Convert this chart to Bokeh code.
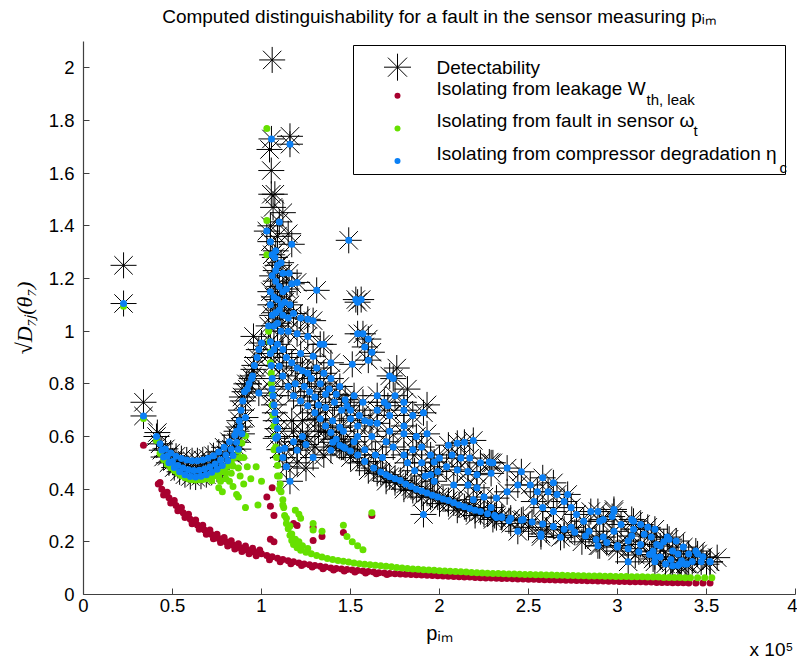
import math
from bokeh.plotting import figure
from bokeh.models import Label, BoxAnnotation, FixedTicker, CustomJSTickFormatter, LinearAxis, Title
from bokeh.embed import file_html
from bokeh.resources import INLINE

# ---------------- axis ticks ----------------
x_ticks = [0, 0.5, 1, 1.5, 2, 2.5, 3, 3.5, 4]
x_tick_labels = ["0", "0.5", "1", "1.5", "2", "2.5", "3", "3.5", "4"]
y_ticks = [0, 0.2, 0.4, 0.6, 0.8, 1, 1.2, 1.4, 1.6, 1.8, 2]
y_tick_labels = ["0", "0.2", "0.4", "0.6", "0.8", "1", "1.2", "1.4", "1.6", "1.8", "2"]

# ---------------- data (x in units of 1e5, as on the axis) ----------------
# Isolating from leakage W_th,leak (red)
red_band = [(0.42,0.420),(0.44,0.400),(0.46,0.383),(0.48,0.367),(0.50,0.352),(0.52,0.338),(0.54,0.324),
            (0.56,0.310),(0.58,0.298),(0.60,0.286),(0.62,0.275),(0.64,0.264),(0.66,0.254),(0.68,0.245),
            (0.70,0.236),(0.72,0.228),(0.74,0.220),(0.76,0.213),(0.78,0.206),(0.80,0.200),(0.82,0.194),
            (0.84,0.188),(0.86,0.183),(0.88,0.178),(0.90,0.173),(0.92,0.169),(0.94,0.165),(0.96,0.161),
            (0.98,0.158),(1.00,0.155),
            (0.43,0.425),(0.47,0.388),(0.51,0.357),(0.55,0.330),(0.59,0.305),(0.63,0.283),(0.67,0.263),
            (0.71,0.245),(0.75,0.229),(0.79,0.216),(0.83,0.204),(0.87,0.193),(0.91,0.184),(0.95,0.176),(0.99,0.169),
            (0.45,0.378),(0.49,0.347),(0.53,0.318),(0.57,0.292),(0.61,0.269),(0.65,0.248),(0.69,0.229),
            (0.73,0.212),(0.77,0.197),(0.81,0.184),(0.85,0.173),(0.89,0.163),(0.93,0.155),(0.97,0.147)]
red_tail = [(1.03,0.148),(1.06,0.143),(1.09,0.138),(1.12,0.133),(1.15,0.128),(1.18,0.124),(1.21,0.120),
            (1.24,0.116),(1.27,0.113),(1.30,0.110),(1.33,0.107),(1.36,0.104),(1.39,0.101),(1.42,0.099),
            (1.45,0.097),(1.48,0.095),(1.51,0.093),(1.54,0.091),(1.57,0.089),(1.60,0.087),(1.63,0.085),
            (1.66,0.083),(1.69,0.082),(1.72,0.080),(1.75,0.079),(1.78,0.078),(1.81,0.077),(1.84,0.076),
            (1.87,0.075),(1.90,0.074),(1.93,0.073),(1.96,0.072),(1.99,0.071),(2.02,0.070),(2.05,0.069),
            (2.08,0.068),(2.11,0.067),(2.14,0.066),(2.17,0.066),(2.20,0.065),(2.23,0.064),(2.26,0.063),
            (2.29,0.063),(2.32,0.062),(2.35,0.061),(2.38,0.061),(2.41,0.060),(2.44,0.059),(2.47,0.059),
            (2.50,0.058),(2.53,0.058),(2.56,0.057),(2.59,0.056),(2.62,0.056),(2.65,0.055),(2.68,0.055),
            (2.71,0.054),(2.74,0.054),(2.77,0.053),(2.80,0.053),(2.83,0.052),(2.86,0.052),(2.89,0.051),
            (2.92,0.051),(2.95,0.050),(2.98,0.050),(3.01,0.049),(3.04,0.049),(3.07,0.048),(3.10,0.048),
            (3.13,0.048),(3.16,0.047),(3.19,0.047),(3.22,0.046),(3.25,0.046),(3.28,0.046),(3.31,0.045),
            (3.34,0.045),(3.37,0.045),(3.40,0.044),(3.44,0.044),(3.48,0.044),(3.52,0.044),
            (1.045,0.132),(1.105,0.124),(1.165,0.117),(1.225,0.110),(1.285,0.104),(1.345,0.098),
            (1.405,0.093),(1.465,0.089),(1.525,0.085),(1.585,0.082),(1.645,0.079),(1.705,0.076)]
red_scatter = [(0.337,0.567),(1.06,0.405),(1.03,0.37),(1.05,0.335),(1.07,0.30),(1.05,0.21),(1.07,0.20),
               (1.18,0.27),(1.20,0.262),(1.29,0.255),(1.34,0.22),(1.29,0.205),(1.46,0.235),(1.62,0.30)]

# Isolating from fault in sensor omega_t (green)
green_iso = [(0.225,1.095),(0.337,0.668),(0.41,0.585),(1.03,1.77),(1.03,1.42),(1.03,1.29)]
green_u = [(0.43,0.535),(0.45,0.512),(0.47,0.495),(0.49,0.481),(0.51,0.471),(0.53,0.460),(0.55,0.451),
           (0.57,0.444),(0.59,0.439),(0.61,0.436),(0.63,0.435),(0.65,0.436),(0.67,0.437),(0.69,0.440),
           (0.71,0.444),(0.73,0.450),(0.75,0.456),(0.77,0.465),(0.79,0.475),(0.81,0.487),(0.83,0.502),
           (0.85,0.520),(0.87,0.545),(0.89,0.575),(0.91,0.602),
           (0.72,0.432),(0.76,0.445),(0.80,0.462),(0.84,0.488),(0.88,0.520)]
green_scatter = [(0.90,0.52),(0.87,0.48),(0.92,0.485),(0.97,0.485),(0.83,0.46),(0.77,0.43),(0.82,0.43),
                 (0.76,0.405),(0.78,0.39),(0.88,0.45),(0.90,0.42),(0.86,0.38),(0.87,0.37),(0.91,0.33),
                 (0.98,0.34),(1.00,0.43),(0.94,0.44),(0.80,0.44),(0.84,0.41),
                 (1.29,0.27),(1.29,0.245),(1.34,0.24),(1.46,0.263),(1.48,0.22),(1.51,0.20),(1.54,0.185),
                 (1.57,0.17),(1.62,0.31)]
green_drop = [(1.04,1.00),(1.045,0.96),(1.05,0.92),(1.05,0.88),(1.055,0.84),(1.055,0.80),(1.06,0.76),
              (1.06,0.72),(1.065,0.68),(1.07,0.64),(1.075,0.60),(1.08,0.56),(1.085,0.52),(1.09,0.49),
              (1.10,0.45),(1.105,0.42),(1.11,0.39),(1.12,0.36),(1.125,0.33),(1.13,0.30),(1.14,0.27),
              (1.15,0.25),(1.16,0.225),(1.17,0.205),(1.18,0.19),(1.20,0.178),(1.22,0.168),(1.25,0.16),
              (1.07,0.55),(1.09,0.45),(1.10,0.40),(1.12,0.34),(1.14,0.29),(1.16,0.26),(1.17,0.23),
              (1.19,0.21),(1.21,0.20),(1.23,0.185),(1.26,0.175),(1.19,0.32),(1.21,0.305),(1.22,0.29)]
green_tail = [(1.28,0.155),(1.31,0.148),(1.34,0.142),(1.37,0.137),(1.40,0.133),(1.43,0.129),(1.46,0.126),
              (1.49,0.123),(1.52,0.120),(1.55,0.117),(1.58,0.115),(1.61,0.113),(1.64,0.111),(1.67,0.109),
              (1.70,0.107),(1.73,0.105),(1.76,0.103),(1.79,0.101),(1.82,0.099),(1.85,0.097),(1.88,0.096),
              (1.91,0.094),(1.94,0.093),(1.97,0.092),(2.00,0.090),(2.03,0.089),(2.06,0.088),(2.09,0.087),
              (2.12,0.086),(2.15,0.085),(2.18,0.084),(2.21,0.083),(2.24,0.082),(2.27,0.081),(2.30,0.080),
              (2.33,0.080),(2.36,0.079),(2.39,0.078),(2.42,0.078),(2.45,0.077),(2.48,0.076),(2.51,0.076),
              (2.54,0.075),(2.57,0.075),(2.60,0.074),(2.63,0.074),(2.66,0.073),(2.69,0.073),(2.72,0.072),
              (2.75,0.072),(2.78,0.071),(2.81,0.071),(2.84,0.070),(2.87,0.070),(2.90,0.070),(2.93,0.069),
              (2.96,0.069),(2.99,0.068),(3.02,0.068),(3.05,0.068),(3.08,0.067),(3.11,0.067),(3.14,0.067),
              (3.17,0.066),(3.20,0.066),(3.23,0.066),(3.26,0.065),(3.29,0.065),(3.32,0.065),(3.35,0.065),
              (3.38,0.064),(3.41,0.064),(3.45,0.064),(3.49,0.064),(3.53,0.064)]

# Isolating from compressor degradation eta_c (blue)
blue_u = [(0.225,1.105),(0.337,0.678),(0.41,0.600),
          (0.43,0.572),(0.46,0.553),(0.49,0.537),(0.52,0.525),(0.55,0.516),(0.58,0.511),(0.61,0.508),
          (0.64,0.508),(0.67,0.511),(0.70,0.517),(0.73,0.527),(0.76,0.541),(0.79,0.559),(0.82,0.580),
          (0.85,0.605),(0.88,0.636),(0.91,0.672),
          (0.44,0.548),(0.47,0.525),(0.50,0.505),(0.53,0.490),(0.56,0.480),(0.59,0.474),(0.62,0.471),
          (0.65,0.472),(0.68,0.477),(0.71,0.485),(0.74,0.496),(0.77,0.511),(0.80,0.530),(0.83,0.552),
          (0.86,0.578),(0.89,0.610),
          (0.45,0.522),(0.48,0.500),(0.51,0.482),(0.54,0.466),(0.57,0.455),(0.60,0.448),(0.63,0.446),
          (0.66,0.449),(0.69,0.455),(0.72,0.464),(0.75,0.476),(0.78,0.490),(0.81,0.508),(0.84,0.528),
          (0.87,0.552)]
blue_peak = [(1.056,1.73),(1.16,1.71),(1.10,1.415),(1.03,1.38),(1.05,1.34),(1.17,1.33),(1.08,1.305),
             (1.06,1.29),(1.075,1.28),(1.09,1.25),(1.11,1.26),(1.08,1.23),(1.12,1.22),(1.155,1.22),
             (1.20,1.185),(1.06,1.21),(1.08,1.19),(1.10,1.17),(1.12,1.15),(1.14,1.16),(1.17,1.18),
             (1.31,1.155),(1.49,1.345),(1.53,1.12),(1.56,1.12),
             (1.05,1.15),(1.07,1.13),(1.09,1.12),(1.11,1.10),(1.13,1.11),(1.16,1.10),(1.05,1.10),
             (1.06,1.06),(1.08,1.07),(1.10,1.08),(1.12,1.06),(1.15,1.05),(1.18,1.067),(1.22,1.05),
             (1.26,1.045),(1.29,1.04),(1.04,1.02),(1.07,1.02),(1.09,1.03),(1.11,1.00),(1.15,1.00),
             (1.20,0.99),(1.26,0.98),(1.33,0.95),(1.35,0.95),
             (1.05,0.96),(1.05,0.915),(1.055,0.87),(1.06,0.82),(1.06,0.78),(1.065,0.755),(1.07,0.72),
             (1.075,0.69),(1.08,0.66),(1.09,0.63),(1.08,0.593),(1.13,0.555),(1.20,0.548),(1.14,0.485),
             (1.16,0.43),(1.29,0.52),
             (0.86,0.62),(0.875,0.66),(0.885,0.70),(0.895,0.735),(0.905,0.77),(0.92,0.78),(0.93,0.80),
             (0.945,0.82),(0.96,0.87),(0.975,0.90),(0.985,0.93),(1.00,0.955),(0.985,0.765),(0.95,0.83),
             (1.09,0.95),(1.12,0.93),(1.14,0.90),(1.17,0.88),(1.20,0.86),(1.23,0.85),(1.26,0.84),
             (1.31,0.86),(1.35,0.84),(1.38,0.78),(1.42,0.76),(1.47,0.74),(1.50,0.70),(1.55,0.68),
             (1.58,0.66),(1.19,0.80),(1.27,0.77),(1.32,0.72),(1.40,0.66),(1.46,0.62),(1.52,0.58),
             (1.58,0.55),(1.64,0.53),(1.68,0.52),(1.09,0.60),(1.10,0.55),(1.12,0.52),(1.18,0.58),(1.23,0.60)]
blue_line = [(1.07,0.93),(1.10,0.867),(1.12,0.83),(1.15,0.79),(1.18,0.755),(1.22,0.735),(1.26,0.717),
             (1.30,0.69),(1.33,0.667),(1.36,0.64),(1.39,0.615),(1.42,0.59),(1.44,0.567),(1.47,0.555),
             (1.50,0.545),(1.54,0.53),(1.58,0.505),(1.63,0.48),(1.67,0.465),(1.70,0.455),(1.72,0.447),
             (1.75,0.44),(1.78,0.433),(1.81,0.42),(1.84,0.41),(1.87,0.40),(1.90,0.393),(1.93,0.385),
             (1.96,0.377),(1.99,0.37),(2.02,0.363),(2.05,0.357),(2.08,0.348),(2.11,0.34),(2.14,0.333),
             (2.17,0.327),(2.20,0.32),(2.23,0.315),(2.27,0.307),(2.31,0.30),(2.35,0.295),(2.40,0.29),
             (2.46,0.282),(2.52,0.275),(2.58,0.268),(2.64,0.258),(2.70,0.248),(2.76,0.236),(2.82,0.222),
             (2.88,0.209),(2.94,0.197),(3.00,0.186),(3.06,0.174),(3.12,0.162),(3.18,0.152),(3.24,0.142),
             (3.30,0.133),(3.36,0.128),(3.42,0.125),(3.47,0.124),(3.52,0.124)]
blue_cloud = [(1.22,0.915),(1.29,0.905),(1.39,0.88),(1.39,0.82),(1.44,0.79),(1.52,0.755),(1.57,0.73),
              (1.48,0.717),(1.44,0.635),(1.40,0.578),(1.50,0.667),(1.54,0.64),(1.54,0.60),(1.61,0.653),
              (1.71,0.717),(1.72,0.83),(1.65,0.755),(1.69,0.73),(1.65,0.70),(1.72,0.68),(1.80,0.70),
              (1.65,0.65),(1.72,0.62),(1.80,0.61),(1.62,0.60),(1.70,0.58),(1.74,0.56),(1.80,0.53),
              (1.54,0.99),(1.57,0.99),(1.60,0.97),(1.58,0.94),(1.62,0.92),(1.60,0.89),(1.51,0.874),
              (1.54,1.11),(1.74,0.82),(1.91,0.69),(1.93,0.61),(1.28,0.82),(1.24,0.79),(1.33,0.80),
              (1.36,0.76),(1.30,0.75),(1.41,0.73),(1.45,0.70),(1.36,0.71),(1.46,0.56),(1.39,0.548),
              (1.25,0.57),(1.80,0.73),(1.75,0.755),(1.80,0.64),(1.85,0.68),(1.87,0.60),(1.90,0.56),
              (1.85,0.55),(1.90,0.50),(1.95,0.53),(1.82,0.50),(1.86,0.47),(1.92,0.45),(1.97,0.43),
              (2.05,0.567),(2.10,0.574),(2.14,0.578),(2.19,0.585),(2.07,0.53),(2.12,0.518),(2.17,0.518),
              (2.23,0.50),(2.28,0.503),(2.30,0.50),(2.04,0.485),(2.10,0.473),(2.16,0.467),(2.21,0.455),
              (2.29,0.46),(2.00,0.518),(1.97,0.503),(1.99,0.467),(1.95,0.455),(2.08,0.416),(2.16,0.416),
              (2.21,0.405),(2.25,0.37),(2.32,0.366),(2.29,0.33),(2.32,0.292),(2.38,0.48),(2.46,0.466),
              (2.44,0.416),(2.51,0.416),(2.58,0.443),(2.64,0.424),(2.55,0.39),(2.61,0.39),(2.66,0.38),
              (2.53,0.353),(2.58,0.33),(2.64,0.315),(2.70,0.353),(2.74,0.33),(2.77,0.304),(2.81,0.278),
              (2.85,0.315),(2.89,0.315),(2.90,0.278),(2.84,0.24),(2.74,0.255),(2.68,0.217),(2.57,0.23),
              (2.44,0.24),(2.35,0.292),(2.39,0.28),(2.47,0.285),(2.89,0.185),(1.91,0.304),(2.19,0.36),
              (2.38,0.39),(2.29,0.50),(2.72,0.38),(2.98,0.315),(3.09,0.278),(3.17,0.255),(3.28,0.218),
              (3.37,0.18),(3.45,0.154),
              (2.98,0.323),(2.97,0.296),(2.92,0.285),(2.98,0.24),(2.92,0.218),(3.00,0.18),(3.08,0.285),
              (3.13,0.266),(3.09,0.248),(3.08,0.222),(3.15,0.229),(3.19,0.218),(3.21,0.248),(3.13,0.19),
              (3.06,0.203),(3.20,0.165),(3.21,0.143),(3.24,0.184),(3.29,0.21),(3.33,0.203),(3.31,0.165),
              (3.34,0.154),(3.27,0.116),(3.31,0.109),(3.35,0.116),(3.39,0.116),(3.40,0.154),(3.44,0.165),
              (3.48,0.143),(3.52,0.124),(3.06,0.124),(3.26,0.20),(3.22,0.19),(3.02,0.266),(3.21,0.124),
              (3.34,0.11),(3.38,0.116),(2.57,0.22)]

# Detectability (black asterisks): at the isolation points plus these additional values
det_extra = [(0.225,1.25),(0.337,0.73),(0.415,0.615),(1.06,2.03),(1.16,1.74),(1.045,1.69),(1.055,1.61),
             (1.055,1.52),(1.075,1.52),(1.065,1.47),(1.05,1.40),(1.12,1.45),(1.15,1.37),(1.09,1.36),
             (0.955,0.98),(0.955,0.855),(0.915,0.80),(0.89,0.75),(1.76,0.86),(1.82,0.78),(1.93,0.72),
             (1.18,0.62),(1.22,0.58),(1.26,0.60),(1.30,0.56),(1.35,0.53),(1.20,0.50),(1.25,0.48),
             (1.32,0.62),(1.17,0.66),(1.23,0.66),
             (1.30,0.665),(1.40,0.59),(1.50,0.52),(1.60,0.47),(1.70,0.43),(1.80,0.40),(1.90,0.37),
             (2.00,0.345),(2.10,0.32),(2.20,0.30),(2.30,0.285),(2.40,0.27),(2.50,0.255),(2.60,0.245),
             (2.70,0.225),(2.80,0.20),(2.90,0.185),(3.00,0.165),(3.10,0.15),(3.20,0.135),(3.30,0.12),
             (3.40,0.115),(3.50,0.115),(3.56,0.14),
             (1.35,0.62),(1.45,0.56),(1.55,0.50),(1.65,0.46),(1.75,0.425),(1.85,0.395),(1.95,0.37),
             (2.05,0.345),(2.15,0.325),(2.25,0.305)]


def unzip(*groups):
    xs, ys = [], []
    for g in groups:
        for a, b in g:
            xs.append(a)
            ys.append(b)
    return xs, ys


red_x, red_y = unzip(red_band, red_tail, red_scatter)
green_x, green_y = unzip(green_iso, green_u, green_scatter, green_drop, green_tail)
blue_x, blue_y = unzip(blue_u, blue_peak, blue_line, blue_cloud)
det_x, det_y = unzip(blue_u, blue_peak, blue_line, blue_cloud, det_extra)

RED = "#a8002f"
GREEN = "#66e000"
BLUE = "#0b80f5"
FONT = "Liberation Sans"
FS = "19px"
SUB = "15px"

# ---------------- layout ----------------
CW, CH = 797, 662                  # canvas
FL, FT, FW, FH = 83, 41, 712, 560  # frame inside canvas
X_MAX, Y_MAX = 4, 2.1

p = figure(width=CW, height=CH, x_range=(0, X_MAX), y_range=(0, Y_MAX),
           output_backend="svg", toolbar_location=None,
           min_border_left=FL, min_border_right=CW - FL - FW,
           min_border_top=FT, min_border_bottom=CH - FT - FH)
p.xgrid.grid_line_color = None
p.ygrid.grid_line_color = None
p.outline_line_color = None
p.background_fill_color = "white"
p.border_fill_color = "white"

p.title.text = "Computed distinguishability for a fault in the sensor measuring p\u1d62\u2098"
p.title.align = "center"
p.title.text_font = FONT
p.title.text_font_size = FS
p.title.text_font_style = "normal"
p.title.text_color = "black"
p.title.vertical_align = "top"
p.title.standoff = 4
# small blank spacer between the title and the plot frame
p.add_layout(Title(text=" ", text_font_size="8px", standoff=0), "above")

xa = p.xaxis[0]
ya = p.yaxis[0]
xa.ticker = FixedTicker(ticks=x_ticks)
ya.ticker = FixedTicker(ticks=y_ticks)
fmt_code = "const i = vals.indexOf(tick); return i >= 0 ? labs[i] : '';"
xa.formatter = CustomJSTickFormatter(args=dict(vals=x_ticks, labs=x_tick_labels), code=fmt_code)
ya.formatter = CustomJSTickFormatter(args=dict(vals=y_ticks, labs=y_tick_labels), code=fmt_code)
for ax in (xa, ya):
    ax.axis_line_color = "#404040"
    ax.axis_line_width = 1.2
    ax.major_tick_line_color = "#404040"
    ax.major_tick_in = 6
    ax.major_tick_out = 0
    ax.minor_tick_line_color = None
    ax.major_label_text_font = FONT
    ax.major_label_text_font_size = "18.5px"
    ax.major_label_text_color = "black"
xa.major_label_standoff = 4
ya.major_label_standoff = 9

xa.axis_label = "p\u1d62\u2098"
xa.axis_label_text_font = FONT
xa.axis_label_text_font_size = "20px"
xa.axis_label_text_font_style = "normal"
xa.axis_label_text_color = "black"
xa.axis_label_standoff = 7

ya.axis_label = "\u221aD\u2087\u2c7c(\u03b8\u2087)"
ya.axis_label_text_font = "Liberation Serif"
ya.axis_label_text_font_size = "22px"
ya.axis_label_text_font_style = "italic"
ya.axis_label_text_color = "black"
ya.axis_label_standoff = 9

# axis multiplier "x 10^5" shown at the bottom right, as in the original figure
exp_ax = LinearAxis(ticker=FixedTicker(ticks=[3.865]),
                    formatter=CustomJSTickFormatter(code="return 'x 10\u2075';"),
                    axis_line_color=None, major_tick_line_color=None, minor_tick_line_color=None,
                    major_label_text_font=FONT, major_label_text_font_size=FS,
                    major_label_text_color="black", major_label_standoff=-14)
p.add_layout(exp_ax, "below")

p.scatter(det_x, det_y, marker="asterisk", size=26, line_color="black", line_width=1)
p.scatter(red_x, red_y, marker="circle", size=7, fill_color=RED, line_color=None)
p.scatter(green_x, green_y, marker="circle", size=7, fill_color=GREEN, line_color=None)
p.scatter(blue_x, blue_y, marker="circle", size=7, fill_color=BLUE, line_color=None)


# page-pixel helpers for annotation placement (frame-relative screen units)
def sx(px):
    return px - FL


def sy(py):
    return (FT + FH) - py


def dx(px):
    return (px - FL) / FW * X_MAX


def dy(py):
    return ((FT + FH) - py) / FH * Y_MAX


def lab(text, px, py, size=FS, align="left", baseline="alphabetic"):
    p.add_layout(Label(x=sx(px), y=sy(py), x_units="screen", y_units="screen", text=text,
                       text_font=FONT, text_font_size=size, text_align=align,
                       text_baseline=baseline, text_color="black"))


# legend
p.add_layout(BoxAnnotation(left=sx(353), right=sx(785), top=sy(52), bottom=sy(181),
                           left_units="screen", right_units="screen", top_units="screen",
                           bottom_units="screen", fill_color=None, fill_alpha=0,
                           line_color="black", line_width=1, line_alpha=1))
p.scatter([dx(397)], [dy(67)], marker="asterisk", size=27, line_color="black", line_width=1)
p.scatter([dx(397)], [dy(96)], marker="circle", size=6, fill_color=RED, line_color=None)
p.scatter([dx(397)], [dy(129)], marker="circle", size=6, fill_color=GREEN, line_color=None)
p.scatter([dx(397)], [dy(162)], marker="circle", size=6, fill_color=BLUE, line_color=None)
lab("Detectability", 436, 74)
lab("Isolating from leakage W", 436, 95)
lab("th, leak", 646, 106, size=SUB)
lab("Isolating from fault in sensor \u03c9", 436, 127)
lab("t", 693, 137, size=SUB)
lab("Isolating from compressor degradation \u03b7", 436, 160)
lab("c", 779, 174, size=SUB)

open("out.html", "w").write(file_html(p, INLINE))
